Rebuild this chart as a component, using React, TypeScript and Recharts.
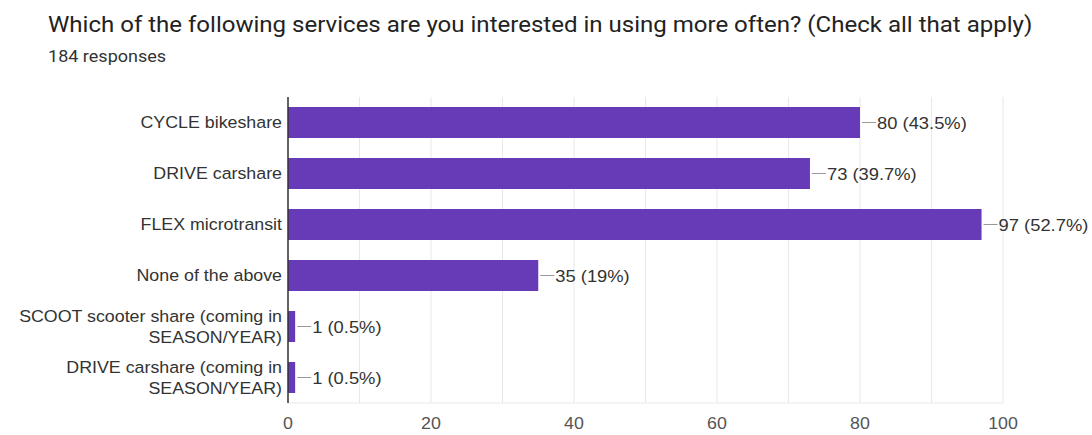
import { Bar, BarChart, CartesianGrid, LabelList, XAxis, YAxis } from "recharts";

const categories = [
  "CYCLE bikeshare",
  "DRIVE carshare",
  "FLEX microtransit",
  "None of the above",
  "SCOOT scooter share (coming in\nSEASON/YEAR)",
  "DRIVE carshare (coming in\nSEASON/YEAR)",
];
const counts = [80, 73, 97, 35, 1, 1];
const percents = ["43.5%", "39.7%", "52.7%", "19%", "0.5%", "0.5%"];
const xTicks = [0, 20, 40, 60, 80, 100];
const gridLines = [0, 10, 20, 30, 40, 50, 60, 70, 80, 90, 100];

const data = categories.map((name, i) => ({ name, value: counts[i], pct: percents[i] }));

const PURPLE = "#673ab7";
const FONT = "'Liberation Sans', Arial, sans-serif";
// the screenshot is a little stretched sideways, so text gets a horizontal scale
const SX = 1.08;

function CategoryTick(props: any) {
  const { x, y, payload } = props;
  const lines: string[] = String(payload.value).split("\n");
  const lh = 21;
  const start = -((lines.length - 1) * lh) / 2;
  return (
    <g transform={`translate(${x + 2},${y}) scale(${SX},1)`}>
      <text textAnchor="end" fontSize={16.5} fontFamily={FONT} fill="#333">
        {lines.map((line, i) => (
          <tspan key={i} x={0} y={start + i * lh} dy="0.36em">
            {line}
          </tspan>
        ))}
      </text>
    </g>
  );
}

function ValueLabel(props: any) {
  const { x, y, width, height, value, index } = props;
  const end = Number(x) + Number(width);
  const cy = Number(y) + Number(height) / 2;
  return (
    <g>
      <line x1={end + 2} x2={end + 16} y1={cy} y2={cy} stroke="#999" strokeWidth={1} />
      <g transform={`translate(${end + 17},${cy}) scale(${SX},1)`}>
        <text dy="0.36em" fontSize={17} fontFamily={FONT} fill="#333">
          {`${value} (${percents[index]})`}
        </text>
      </g>
    </g>
  );
}

// grid runs every 10, labels only on the xTicks values
function NumberTick(props: any) {
  const { x, y, payload } = props;
  if (!xTicks.includes(payload.value)) return <g />;
  return (
    <g transform={`translate(${x},${y}) scale(${SX},1)`}>
      <text textAnchor="middle" dy="0.85em" fontSize={16.5} fontFamily={FONT} fill="#555">
        {payload.value}
      </text>
    </g>
  );
}

export default function App() {
  return (
    <div style={{ position: "absolute", left: 0, top: 0, width: 1092, height: 435, background: "#fff" }}>
      <div
        style={{
          position: "absolute",
          left: 48,
          top: 11,
          fontFamily: "Roboto, sans-serif",
          fontSize: 22.5,
          lineHeight: "normal",
          color: "#222",
          whiteSpace: "nowrap",
          transform: "scaleX(1.068)",
          transformOrigin: "left center",
        }}
      >
        Which of the following services are you interested in using more often? (Check all that apply)
      </div>
      <div
        style={{
          position: "absolute",
          left: 48,
          top: 46,
          fontFamily: "Roboto, sans-serif",
          fontSize: 17,
          lineHeight: "normal",
          color: "#333",
          whiteSpace: "nowrap",
          transform: "scaleX(1.06)",
          transformOrigin: "left center",
        }}
      >
        184 responses
      </div>
      <div style={{ position: "absolute", left: 0, top: 0 }}>
        <BarChart
          layout="vertical"
          width={1092}
          height={435}
          data={data}
          margin={{ top: 97, right: 89, bottom: 7, left: 0 }}
        >
          <CartesianGrid stroke="#e8e8e8" horizontal={false} />
          <XAxis
            type="number"
            domain={[0, 100]}
            ticks={gridLines}
            interval={0}
            axisLine={{ stroke: "#e8e8e8" }}
            tickLine={false}
            height={25}
            tick={<NumberTick />}
            tickMargin={6}
          />
          <XAxis
            xAxisId="top"
            orientation="top"
            type="number"
            domain={[0, 100]}
            axisLine={{ stroke: "#e8e8e8" }}
            tickLine={false}
            tick={false}
            height={0}
          />
          <YAxis
            type="category"
            dataKey="name"
            width={288}
            axisLine={{ stroke: "#333", strokeWidth: 1.5 }}
            tickLine={false}
            tick={<CategoryTick />}
            interval={0}
          />
          <Bar dataKey="value" fill={PURPLE} barSize={31} isAnimationActive={false}>
            <LabelList dataKey="value" content={<ValueLabel />} />
          </Bar>
        </BarChart>
      </div>
    </div>
  );
}
